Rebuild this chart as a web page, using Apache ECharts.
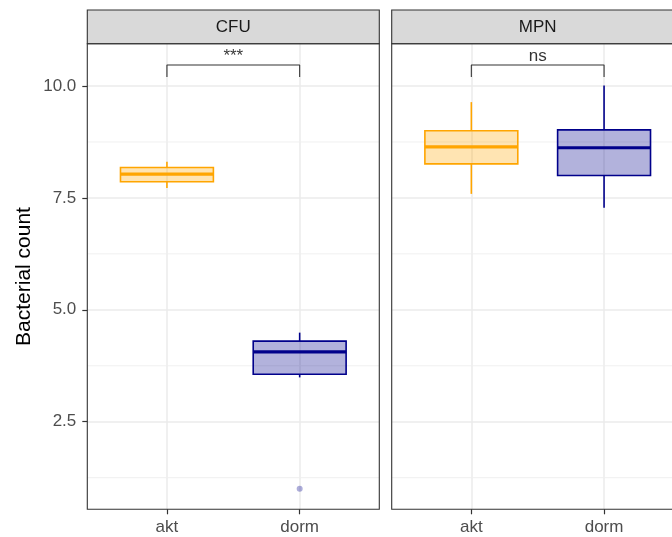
<!DOCTYPE html>
<html>
<head>
<meta charset="utf-8">
<script src="https://cdn.jsdelivr.net/npm/echarts@6/dist/echarts.min.js"></script>
<style>
html,body{margin:0;padding:0;background:#fff;}
#chart{width:672px;height:537px;}
</style>
</head>
<body>
<div id="chart"></div>
<script>
// ---- data ----
const facets = ['CFU', 'MPN'];
const categories = ['akt', 'dorm'];
// per category: [lower whisker, Q1, median, Q3, upper whisker]
const cfuBoxes = [
  [7.72, 7.86, 8.03, 8.18, 8.31],
  [3.49, 3.56, 4.06, 4.30, 4.49]
];
const mpnBoxes = [
  [7.59, 8.26, 8.64, 9.00, 9.64],
  [7.28, 8.00, 8.62, 9.02, 10.01]
];
// outliers: [category index, value]
const cfuOutliers = [[1, 1.0]];
const mpnOutliers = [];
const yTicks = [2.5, 5.0, 7.5, 10.0];
const yMinorTicks = [1.25, 3.75, 6.25, 8.75];
const signifLabels = ['***', 'ns'];
const bracketLow = 10.2;
const bracketHigh = 10.47;

// ---- style ----
const catColors = ['#FFA500', '#00008B'];
const catFills = ['rgba(255,165,0,0.3)', 'rgba(0,0,139,0.3)'];
const FONT = 'Liberation Sans, Arial, Helvetica, sans-serif';
const xMin = 0.4, xMax = 2.6;
const yMin = 0.543, yMax = 10.945;
const panelTop = 43.7, panelH = 465.6, panelW = 292;
const panelLefts = [87.3, 391.7];
const boxHalf = 0.35;

const chart = echarts.init(document.getElementById('chart'), null, {renderer: 'canvas'});

const grids = [], xAxes = [], yAxes = [], series = [], graphics = [];

function boxRender(params, api) {
  const x = api.value(0);
  const lo = api.value(1), q1 = api.value(2), med = api.value(3), q3 = api.value(4), hi = api.value(5);
  const ci = api.value(6);
  const col = catColors[ci], fill = catFills[ci];
  const tl = api.coord([x - boxHalf, q3]);
  const br = api.coord([x + boxHalf, q1]);
  const pHi = api.coord([x, hi]), pQ3 = api.coord([x, q3]);
  const pQ1 = api.coord([x, q1]), pLo = api.coord([x, lo]);
  const mL = api.coord([x - boxHalf, med]), mR = api.coord([x + boxHalf, med]);
  return {
    type: 'group',
    children: [
      {type: 'line', shape: {x1: pHi[0], y1: pHi[1], x2: pQ3[0], y2: pQ3[1]}, style: {stroke: col, lineWidth: 1.6}},
      {type: 'line', shape: {x1: pQ1[0], y1: pQ1[1], x2: pLo[0], y2: pLo[1]}, style: {stroke: col, lineWidth: 1.6}},
      {type: 'rect', shape: {x: tl[0], y: tl[1], width: br[0] - tl[0], height: br[1] - tl[1]}, style: {fill: fill, stroke: col, lineWidth: 1.6}},
      {type: 'line', shape: {x1: mL[0], y1: mL[1], x2: mR[0], y2: mR[1]}, style: {stroke: col, lineWidth: 3.2}}
    ]
  };
}

facets.forEach(function (facet, i) {
  const boxes = i === 0 ? cfuBoxes : mpnBoxes;
  const outs = i === 0 ? cfuOutliers : mpnOutliers;
  grids.push({
    left: panelLefts[i], top: panelTop, width: panelW, height: panelH,
    show: true, backgroundColor: '#fff', borderWidth: 0,
    containLabel: false, outerBoundsMode: 'none'
  });
  xAxes.push({
    type: 'value', gridIndex: i, min: xMin, max: xMax,
    axisLine: {show: false},
    axisTick: {show: true, customValues: [1, 2], length: 5, lineStyle: {color: '#333', width: 1.2}},
    axisLabel: {show: true, customValues: [1, 2], formatter: function (v) { return categories[Math.round(v) - 1] || ''; },
      color: '#4D4D4D', fontSize: 17, fontFamily: FONT, margin: 10},
    splitLine: {show: true, lineStyle: {color: '#EBEBEB', width: 1.5}},
    minorSplitLine: {show: false}
  });
  yAxes.push({
    type: 'value', gridIndex: i, min: yMin, max: yMax,
    name: i === 0 ? 'Bacterial count' : '',
    nameLocation: 'middle', nameRotate: 90, nameGap: 53,
    nameTextStyle: {color: '#000', fontSize: 21, fontFamily: FONT},
    axisLine: {show: false},
    axisTick: {show: i === 0, customValues: yTicks, length: 5, lineStyle: {color: '#333', width: 1.2}},
    axisLabel: {show: i === 0, customValues: yTicks, formatter: function (v) { return v.toFixed(1); },
      color: '#4D4D4D', fontSize: 17, fontFamily: FONT, margin: 11},
    splitLine: {show: true, lineStyle: {color: '#EBEBEB', width: 1.5}}
  });
  // minor grid lines
  yMinorTicks.forEach(function (v) {
    series.push({
      type: 'line', xAxisIndex: i, yAxisIndex: i, z: 1, silent: true, symbol: 'none',
      lineStyle: {color: '#EEEEEE', width: 0.9},
      data: [[xMin, v], [xMax, v]]
    });
  });
  // boxes
  series.push({
    type: 'custom', xAxisIndex: i, yAxisIndex: i, z: 3,
    renderItem: boxRender,
    encode: {x: 0, y: [1, 2, 3, 4, 5]},
    data: boxes.map(function (b, ci) { return [ci + 1, b[0], b[1], b[2], b[3], b[4], ci]; })
  });
  // outliers
  series.push({
    type: 'scatter', xAxisIndex: i, yAxisIndex: i, z: 4, symbolSize: 6,
    itemStyle: {color: 'rgba(0,0,139,0.4)'},
    data: outs.map(function (o) { return [o[0] + 1, o[1]]; })
  });
  // bracket
  series.push({
    type: 'line', xAxisIndex: i, yAxisIndex: i, z: 4, symbol: 'none', silent: true,
    lineStyle: {color: '#333', width: 1.1},
    data: [[1, bracketLow], [1, bracketHigh], [2, bracketHigh], [2, bracketLow]]
  });
  // significance label
  series.push({
    type: 'scatter', xAxisIndex: i, yAxisIndex: i, z: 5, symbolSize: 0, silent: true,
    label: {show: true, position: 'top', distance: 0, formatter: signifLabels[i],
      color: '#000', fontSize: 17, fontFamily: FONT},
    data: [[1.5, bracketHigh]]
  });
  // strip + border
  graphics.push({
    type: 'rect', z: 100,
    shape: {x: panelLefts[i], y: 10, width: panelW, height: panelTop - 10},
    style: {fill: '#D9D9D9', stroke: '#333', lineWidth: 1.1}
  });
  graphics.push({
    type: 'text', z: 101,
    x: panelLefts[i] + panelW / 2, y: (10 + panelTop) / 2 + 0.5,
    style: {text: facet, fill: '#1A1A1A', fontSize: 17, fontFamily: FONT, align: 'center', verticalAlign: 'middle'}
  });
  graphics.push({
    type: 'rect', z: 100,
    shape: {x: panelLefts[i], y: panelTop, width: panelW, height: panelH},
    style: {fill: 'none', stroke: '#333', lineWidth: 1.1}
  });
});

chart.setOption({
  animation: false,
  backgroundColor: '#fff',
  grid: grids,
  xAxis: xAxes,
  yAxis: yAxes,
  series: series,
  graphic: graphics
});
</script>
</body>
</html>
